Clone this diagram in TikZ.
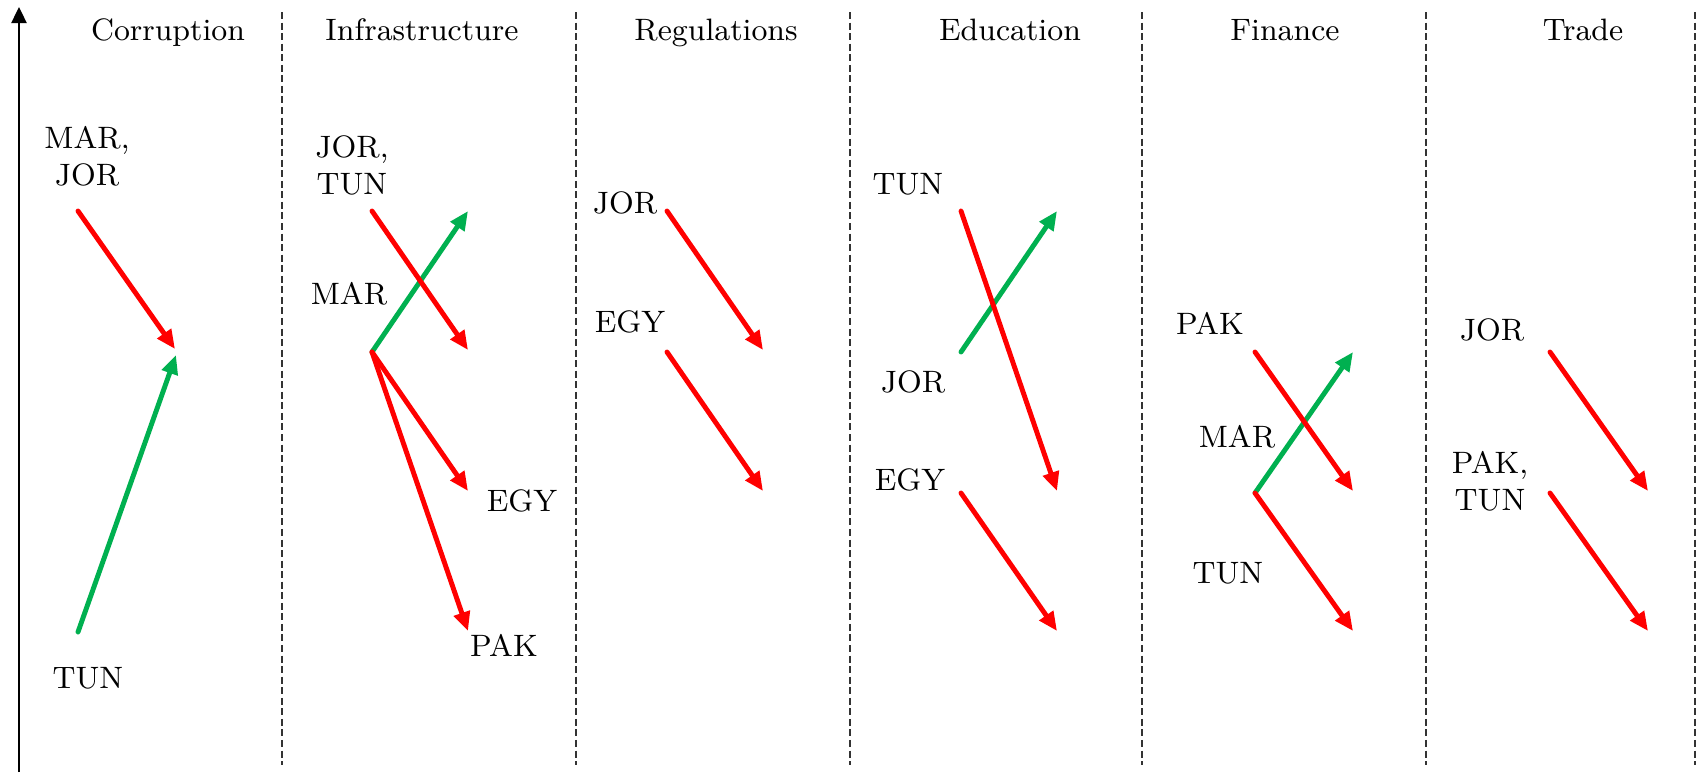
\documentclass[tikz,border=0pt]{standalone}
\usetikzlibrary{arrows.meta}
\definecolor{ared}{HTML}{FF0000}
\definecolor{agreen}{HTML}{00B050}
\definecolor{dgray}{HTML}{333333}
\begin{document}
\begin{tikzpicture}[x=0.01cm,y=-0.01cm,
  lbl/.style={inner sep=0pt, anchor=base, font=\fontsize{8.8}{10.5}\selectfont},
  uparrow/.style={agreen, line width=1.4pt, line cap=round, -{Triangle[length=5.4pt,width=4.6pt]}},
  downarrow/.style={ared, line width=1.4pt, line cap=round, -{Triangle[length=5.4pt,width=4.6pt]}},
  sepline/.style={dgray, line width=0.8pt, dash pattern=on 2pt off 1pt},
  axisline/.style={black, line width=0.75pt, -{Triangle[length=4.6pt,width=4.3pt]}}]
\useasboundingbox (0,0) rectangle (1700,772);
\fill[white] (0,0) rectangle (1700,772);

% axis
\coordinate (ax0) at (19,772);
\coordinate (ax1) at (19,7);
\draw[axisline] (ax0) -- (ax1);

% separators
\foreach \x [count=\i] in {282,576,850,1142,1426,1695} {
  \coordinate (s\i t) at (\x,12);
  \coordinate (s\i b) at (\x,765);
  \draw[sepline] (s\i t) -- (s\i b);
}

% headers
\node[lbl] (h1) at (168,40) {Corruption};
\node[lbl] (h2) at (422,40) {Infrastructure};
\node[lbl] (h3) at (716,40) {Regulations};
\node[lbl] (h4) at (1010,40) {Education};
\node[lbl] (h5) at (1285,40) {Finance};
\node[lbl] (h6) at (1583,40) {Trade};

% ---------- Corruption
\node[lbl] (c1l1) at (87,185) {\begin{tabular}[b]{@{}c@{}}MAR,\\JOR\end{tabular}};
\node[lbl] (c1l2) at (88,688) {TUN};
\coordinate (c1a) at (78,211);
\coordinate (c1b) at (175,349);
\coordinate (c1c) at (78,632);
\coordinate (c1d) at (176,355);
\draw[uparrow] (c1c) -- (c1d);
\draw[downarrow] (c1a) -- (c1b);

% ---------- Infrastructure
\node[lbl] (c2l1) at (352,194) {\begin{tabular}[b]{@{}c@{}}JOR,\\TUN\end{tabular}};
\node[lbl] (c2l2) at (349,304) {MAR};
\node[lbl] (c2l3) at (522,511) {EGY};
\node[lbl] (c2l4) at (504,656) {PAK};
\coordinate (c2a) at (372,211);
\coordinate (c2b) at (468,350);
\coordinate (c2m) at (372,352);
\coordinate (c2g) at (468,211);
\coordinate (c2e) at (468,491);
\coordinate (c2p) at (468,631);
\draw[uparrow] (c2m) -- (c2g);
\draw[downarrow] (c2a) -- (c2b);
\draw[downarrow] (c2m) -- (c2e);
\draw[downarrow] (c2m) -- (c2p);

% ---------- Regulations
\node[lbl] (c3l1) at (625,213) {JOR};
\node[lbl] (c3l2) at (630,332) {EGY};
\coordinate (c3a) at (667,211);
\coordinate (c3b) at (763,350);
\coordinate (c3c) at (667,352);
\coordinate (c3d) at (763,491);
\draw[downarrow] (c3a) -- (c3b);
\draw[downarrow] (c3c) -- (c3d);

% ---------- Education
\node[lbl] (c4l1) at (908,194) {TUN};
\node[lbl] (c4l2) at (913,392) {JOR};
\node[lbl] (c4l3) at (910,490) {EGY};
\coordinate (c4a) at (961,211);
\coordinate (c4b) at (1057,491);
\coordinate (c4c) at (961,352);
\coordinate (c4d) at (1057,211);
\coordinate (c4e) at (961,493);
\coordinate (c4f) at (1057,631);
\draw[uparrow] (c4c) -- (c4d);
\draw[downarrow] (c4a) -- (c4b);
\draw[downarrow] (c4e) -- (c4f);

% ---------- Finance
\node[lbl] (c5l1) at (1210,334) {PAK};
\node[lbl] (c5l2) at (1237,447) {MAR};
\node[lbl] (c5l3) at (1228,583) {TUN};
\coordinate (c5a) at (1255,352);
\coordinate (c5b) at (1353,491);
\coordinate (c5m) at (1255,493);
\coordinate (c5g) at (1353,352);
\coordinate (c5t) at (1353,631);
\draw[uparrow] (c5m) -- (c5g);
\draw[downarrow] (c5a) -- (c5b);
\draw[downarrow] (c5m) -- (c5t);

% ---------- Trade
\node[lbl] (c6l1) at (1492,340) {JOR};
\node[lbl] (c6l2) at (1490,510) {\begin{tabular}[b]{@{}c@{}}PAK,\\TUN\end{tabular}};
\coordinate (c6a) at (1550,352);
\coordinate (c6b) at (1648,491);
\coordinate (c6c) at (1550,493);
\coordinate (c6d) at (1648,631);
\draw[downarrow] (c6a) -- (c6b);
\draw[downarrow] (c6c) -- (c6d);
\end{tikzpicture}
\end{document}
